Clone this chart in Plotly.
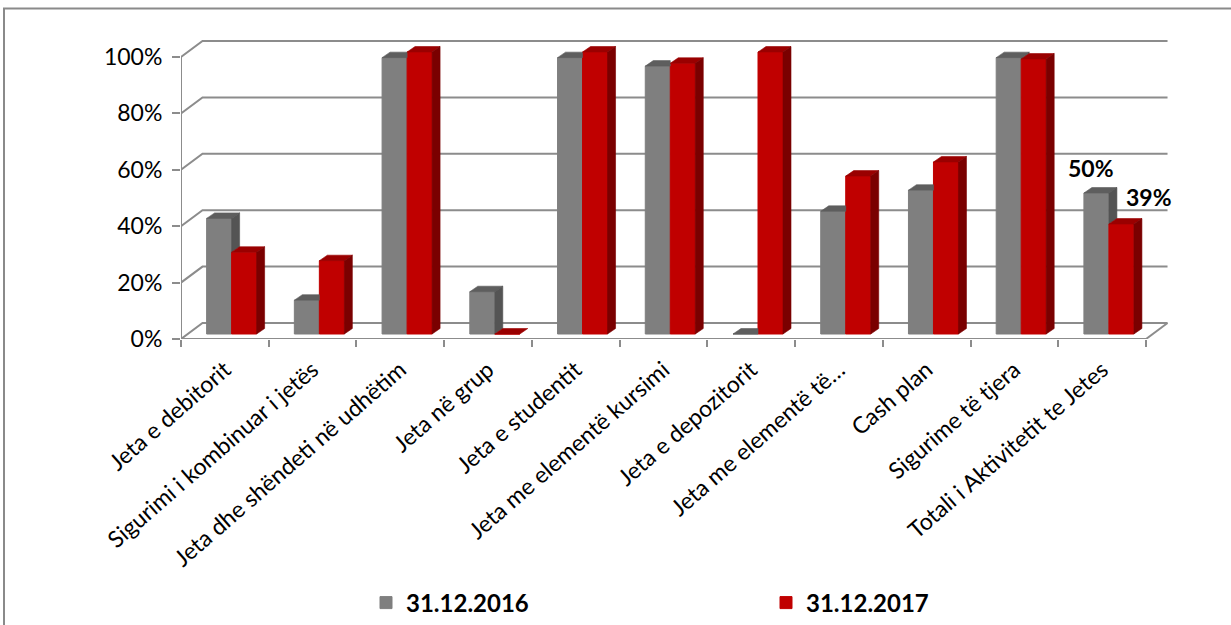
import plotly.graph_objects as go

# ---------------- data ----------------
categories = [
    "Jeta e debitorit",
    "Sigurimi i kombinuar i jetës",
    "Jeta dhe shëndeti në udhëtim",
    "Jeta në grup",
    "Jeta e studentit",
    "Jeta me elementë kursimi",
    "Jeta e depozitorit",
    "Jeta me elementë të…",
    "Cash plan",
    "Sigurime të tjera",
    "Totali i Aktivitetit te Jetes",
]
series_names = ["31.12.2016", "31.12.2017"]
values_2016 = [0.41, 0.12, 0.98, 0.15, 0.98, 0.95, 0.0, 0.435, 0.51, 0.98, 0.50]
values_2017 = [0.29, 0.26, 1.00, 0.0, 1.00, 0.96, 1.00, 0.56, 0.61, 0.975, 0.39]
y_ticks = [0, 0.2, 0.4, 0.6, 0.8, 1.0]
y_tick_labels = ["0%", "20%", "40%", "60%", "80%", "100%"]
labelled_category = "Totali i Aktivitetit te Jetes"

# ---------------- style / geometry ----------------
W_PX, H_PX = 1231, 625
ML, MR, MT, MB = 181, 56, 36, 286
PLOT_W = W_PX - ML - MR
PLOT_H = H_PX - MT - MB
PX_X = 87.73          # pixels per category
PX_Y = 282.0          # pixels per 100%
BW = 0.285            # bar width (category units)
SHIFT = 0.077         # depth shift of bar plane
BASE = 5 / PX_Y       # bar plane base above front floor edge
DXB, DYB = 8 / PX_X, 5.5 / PX_Y       # bar depth
DXW, DYW = 21.5 / PX_X, 16 / PX_Y     # wall depth

GREY, GREY_TOP, GREY_SIDE = "#7f7f7f", "#5e5e5e", "#545454"
RED, RED_TOP, RED_SIDE = "#c00000", "#9a0000", "#7a0000"
AXIS_GREY = "#8c8c8c"
FONT = "Lato"

n = len(categories)
xs = list(range(n))
x_min = -0.5
x_max = x_min + PLOT_W / PX_X
y_max = PLOT_H / PX_Y

fig = go.Figure()

# front faces of the bars
fig.add_trace(go.Bar(
    x=xs, y=values_2016, base=BASE, offset=SHIFT - BW, width=BW,
    name=series_names[0], marker=dict(color=GREY, line=dict(width=1, color=GREY)),
    hoverinfo="skip",
))
fig.add_trace(go.Bar(
    x=xs, y=values_2017, base=BASE, offset=SHIFT, width=BW,
    name=series_names[1], marker=dict(color=RED, line=dict(width=1, color=RED)),
    hoverinfo="skip",
))

# 3D faces computed from the values
g_top_x, g_top_y, g_side_x, g_side_y = [], [], [], []
r_top_x, r_top_y, r_side_x, r_side_y = [], [], [], []
for i, (vg, vr) in enumerate(zip(values_2016, values_2017)):
    x0 = i + SHIFT - BW
    x1 = i + SHIFT
    x2 = i + SHIFT + BW
    tg = vg + BASE
    tr = vr + BASE
    if vr > vg:
        g_top_x += [x0, x1, x1, x0 + DXB, x0, None]
        g_top_y += [tg, tg, tg + DYB, tg + DYB, tg, None]
    else:
        g_top_x += [x0, x1, x1 + DXB, x0 + DXB, x0, None]
        g_top_y += [tg, tg, tg + DYB, tg + DYB, tg, None]
        if vg > vr:
            g_side_x += [x1, x1, x1 + DXB, x1 + DXB, x1, None]
            g_side_y += [tr, tg, tg + DYB, tr + DYB, tr, None]
    r_top_x += [x1, x2, x2 + DXB, x1 + DXB, x1, None]
    r_top_y += [tr, tr, tr + DYB, tr + DYB, tr, None]
    if vr > 0:
        r_side_x += [x2, x2, x2 + DXB, x2 + DXB, x2, None]
        r_side_y += [BASE, tr, tr + DYB, BASE + DYB, BASE, None]

for fx, fy, col in [(g_top_x, g_top_y, GREY_TOP), (g_side_x, g_side_y, GREY_SIDE),
                    (r_top_x, r_top_y, RED_TOP), (r_side_x, r_side_y, RED_SIDE)]:
    fig.add_trace(go.Scatter(
        x=fx, y=fy, mode="lines", fill="toself", fillcolor=col,
        line=dict(width=0.6, color=col), showlegend=False, hoverinfo="skip",
    ))

# walls / gridlines
shapes = []
right = x_min + n
for v in y_ticks:
    shapes.append(dict(
        type="path", xref="x", yref="y", layer="below",
        path=f"M{x_min},{v} L{x_min + DXW},{v + DYW} L{right + DXW},{v + DYW}",
        line=dict(color=AXIS_GREY, width=2),
    ))
shapes.append(dict(type="line", xref="x", yref="y", layer="below",
                   x0=x_min, y0=0, x1=right, y1=0, line=dict(color=AXIS_GREY, width=2)))
shapes.append(dict(type="line", xref="x", yref="y", layer="below",
                   x0=right, y0=0, x1=right + DXW, y1=DYW, line=dict(color=AXIS_GREY, width=2)))
shapes.append(dict(type="line", xref="x", yref="y", layer="below",
                   x0=x_min, y0=0, x1=x_min, y1=y_ticks[-1], line=dict(color=AXIS_GREY, width=2)))


def px_to_paper_x(px):
    return (px - ML) / PLOT_W


def px_to_paper_y(py):
    return (H_PX - MB - py) / PLOT_H


shapes.append(dict(type="rect", xref="paper", yref="paper",
                   x0=px_to_paper_x(4), x1=px_to_paper_x(1240),
                   y0=px_to_paper_y(640), y1=px_to_paper_y(8.5),
                   line=dict(color="#8a8a8a", width=2), fillcolor="rgba(0,0,0,0)"))

k = categories.index(labelled_category)
annotations = [
    dict(x=k + SHIFT - BW / 2, y=values_2016[k] + BASE, xref="x", yref="y",
         text=f"{round(values_2016[k] * 100)}%", showarrow=False,
         xshift=-5, yshift=25, font=dict(family=FONT, size=23, color="black", weight="bold")),
    dict(x=k + SHIFT + BW / 2, y=values_2017[k] + BASE, xref="x", yref="y",
         text=f"{round(values_2017[k] * 100)}%", showarrow=False,
         xshift=28, yshift=27, font=dict(family=FONT, size=23, color="black", weight="bold")),
]

fig.update_layout(
    template="none",
    width=W_PX, height=H_PX, autosize=False,
    margin=dict(l=ML, r=MR, t=MT, b=MB, pad=0, autoexpand=False),
    paper_bgcolor="white", plot_bgcolor="white",
    barmode="overlay",
    shapes=shapes, annotations=annotations,
    font=dict(family=FONT, color="black"),
    showlegend=True,
    legend=dict(
        orientation="h", xref="container", yref="container",
        x=366 / W_PX, y=(H_PX - 603) / H_PX, xanchor="left", yanchor="middle",
        font=dict(family=FONT, size=24, color="black", weight="bold"),
        entrywidth=355, entrywidthmode="pixels", bgcolor="rgba(0,0,0,0)",
        traceorder="normal",
    ),
    xaxis=dict(
        automargin=False,
        range=[x_min, x_max], showgrid=False, zeroline=False, showline=False,
        tickmode="array", tickvals=xs, ticktext=categories, tickangle=-41,
        ticks="", ticklabelstandoff=12, tickfont=dict(family=FONT, size=23, color="black"),
        minor=dict(tickmode="array", tickvals=[x_min + j for j in range(n + 1)],
                   ticks="outside", ticklen=7, tickwidth=2, tickcolor=AXIS_GREY, showgrid=False),
    ),
    yaxis=dict(
        automargin=False,
        range=[0, y_max], showgrid=False, zeroline=False, showline=False,
        tickmode="array", tickvals=y_ticks, ticktext=y_tick_labels,
        ticks="outside", ticklen=8, tickwidth=2, tickcolor=AXIS_GREY,
        ticklabelstandoff=5,
        tickfont=dict(family=FONT, size=23, color="black"),
    ),
)

fig.write_html("out.html", config={"displayModeBar": False},
               post_script="document.body.style.margin='0';")
